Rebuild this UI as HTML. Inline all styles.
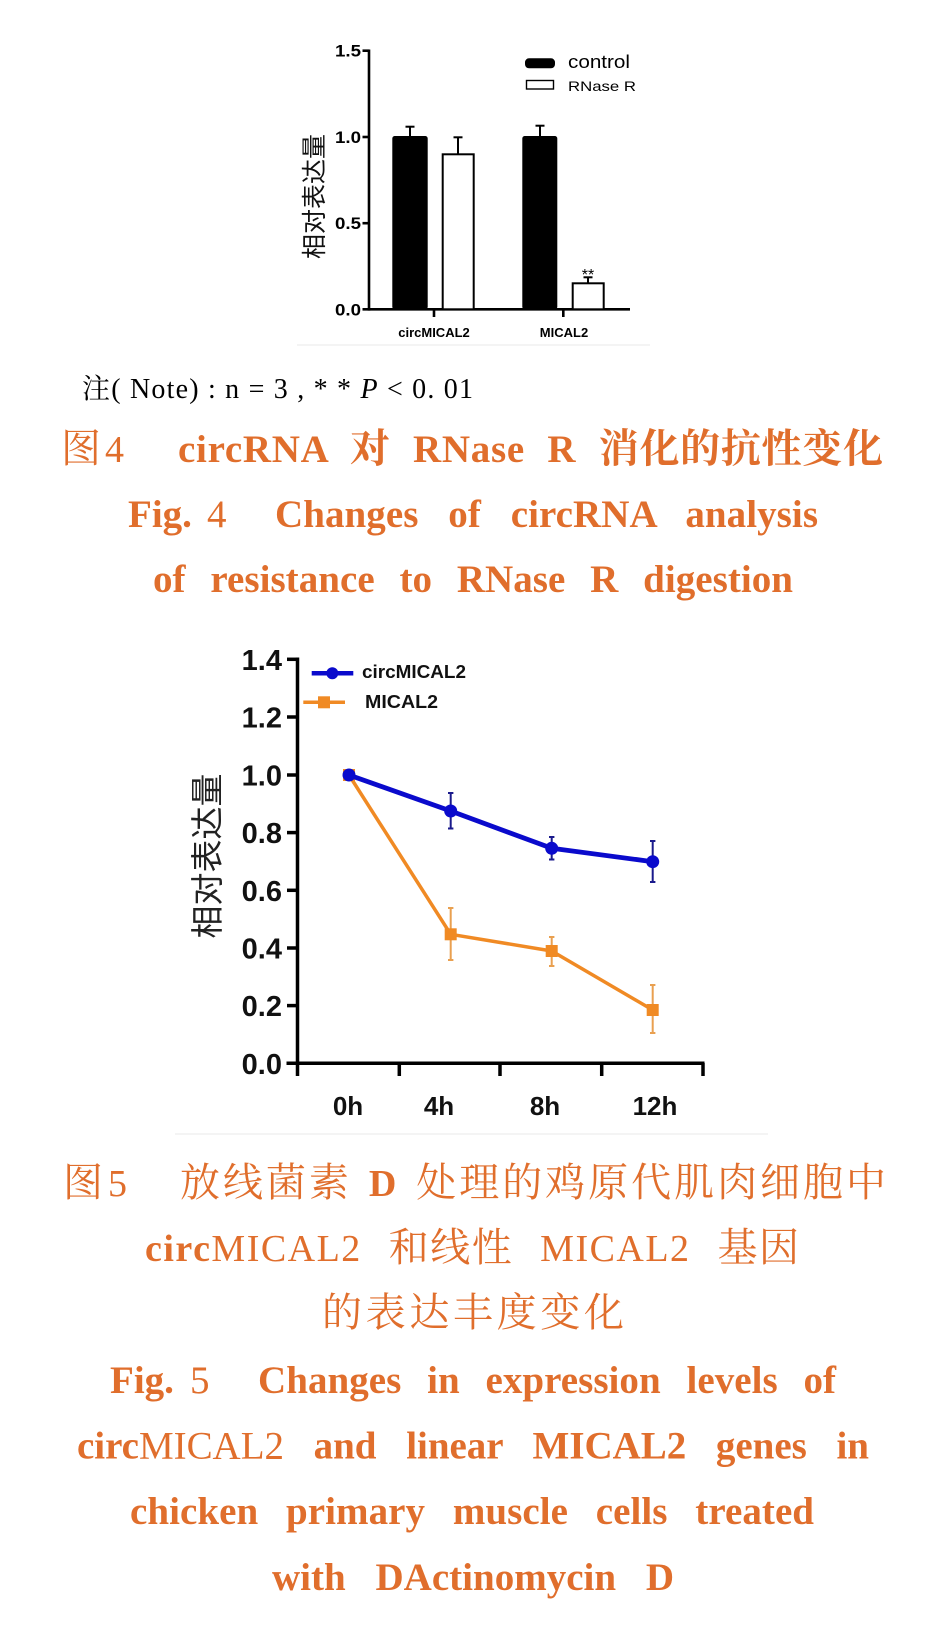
<!DOCTYPE html>
<html><head><meta charset="utf-8"><style>
html,body{margin:0;padding:0;background:#fff;}
svg{display:block;}
.cap{fill:#E06E2C;}
.serif{font-family:"Liberation Serif","Noto Serif CJK SC",serif;}
.cjk{font-family:"Noto Serif CJK SC","Liberation Serif",serif;}
.sans{font-family:"Liberation Sans","Noto Sans CJK SC",sans-serif;}
.cjksans{font-family:"Noto Sans CJK SC","Liberation Sans",sans-serif;}
</style></head><body>
<svg width="936" height="1637" viewBox="0 0 936 1637" xmlns="http://www.w3.org/2000/svg">
<rect x="0" y="0" width="936" height="1637" fill="#fff"/>

<!-- ================= Chart 1 ================= -->
<line x1="297" y1="345" x2="650" y2="345" stroke="#f0f0f0" stroke-width="1.5"/>
<g stroke="#000" fill="none" stroke-width="2.6">
  <line x1="369" y1="49.5" x2="369" y2="310.6"/>
  <line x1="362.5" y1="309.3" x2="630" y2="309.3"/>
  <line x1="362.5" y1="50.7" x2="369" y2="50.7"/>
  <line x1="362.5" y1="137" x2="369" y2="137"/>
  <line x1="362.5" y1="223.2" x2="369" y2="223.2"/>
  <line x1="434" y1="309" x2="434" y2="317"/>
  <line x1="563.3" y1="309" x2="563.3" y2="317"/>
</g>
<g class="sans" font-weight="bold" font-size="17" text-anchor="end" fill="#000">
  <text x="361" y="56.7" textLength="26" lengthAdjust="spacingAndGlyphs">1.5</text>
  <text x="361" y="143" textLength="26" lengthAdjust="spacingAndGlyphs">1.0</text>
  <text x="361" y="229.2" textLength="26" lengthAdjust="spacingAndGlyphs">0.5</text>
  <text x="361" y="315.3" textLength="26" lengthAdjust="spacingAndGlyphs">0.0</text>
</g>
<!-- bars -->
<rect x="392.3" y="136" width="35.4" height="173.3" rx="2.5" fill="#000"/>
<rect x="442.7" y="154.3" width="31" height="155" fill="#fff" stroke="#000" stroke-width="2"/>
<rect x="522.3" y="136" width="35" height="173.3" rx="2.5" fill="#000"/>
<rect x="572.7" y="283.3" width="31" height="26" fill="#fff" stroke="#000" stroke-width="2"/>
<!-- error bars -->
<g stroke="#000" stroke-width="2" fill="none">
  <line x1="410" y1="136" x2="410" y2="126.7"/><line x1="405.5" y1="126.7" x2="414.5" y2="126.7"/>
  <line x1="458" y1="154" x2="458" y2="137.3"/><line x1="453.5" y1="137.3" x2="462.5" y2="137.3"/>
  <line x1="540" y1="136" x2="540" y2="125.7"/><line x1="535.5" y1="125.7" x2="544.5" y2="125.7"/>
  <line x1="588" y1="283" x2="588" y2="277.3"/><line x1="583.5" y1="277.3" x2="592.5" y2="277.3"/>
</g>
<text x="588" y="280" class="sans" font-size="16" text-anchor="middle" fill="#000">**</text>
<!-- legend -->
<rect x="525" y="58.3" width="30" height="10" rx="4" fill="#000"/>
<text x="568" y="68" class="sans" font-size="18" fill="#000" textLength="62" lengthAdjust="spacingAndGlyphs">control</text>
<rect x="526.5" y="80.5" width="27" height="8.5" fill="#fff" stroke="#000" stroke-width="1.4"/>
<text x="568" y="91" class="sans" font-size="14" fill="#000" textLength="68" lengthAdjust="spacingAndGlyphs">RNase R</text>
<!-- x labels -->
<text x="434" y="337" class="sans" font-size="13" font-weight="bold" text-anchor="middle" fill="#000">circMICAL2</text>
<text x="564" y="337" class="sans" font-size="13" font-weight="bold" text-anchor="middle" fill="#000">MICAL2</text>
<!-- y label -->
<text x="313" y="196.5" class="cjksans" font-size="25" fill="#111" text-anchor="middle" dominant-baseline="central" transform="rotate(-90 313 196.5)">相对表达量</text>

<!-- ================= Note & Fig 4 captions ================= -->
<text x="82" y="398" class="serif" font-size="28" fill="#000" textLength="391" lengthAdjust="spacing">注( Note) : n = 3 , * * <tspan font-style="italic">P</tspan> &lt; 0. 01</text>

<text x="61" y="462" class="cap cjk" font-size="40">图</text>
<text x="105" y="462" class="cap serif" font-size="38">4</text>
<text x="178" y="462" class="cap serif" font-size="39" font-weight="bold" word-spacing="12" textLength="705" lengthAdjust="spacing">circRNA <tspan font-size="40">对</tspan> RNase R <tspan font-size="40">消化的抗性变化</tspan></text>

<text x="128" y="527" class="cap serif" font-size="39" font-weight="bold">Fig.</text>
<text x="207" y="527" class="cap serif" font-size="39">4</text>
<text x="275" y="527" class="cap serif" font-size="39" font-weight="bold" word-spacing="20" textLength="543" lengthAdjust="spacing">Changes of circRNA analysis</text>
<text x="153" y="592" class="cap serif" font-size="39" font-weight="bold" word-spacing="15" textLength="640" lengthAdjust="spacing">of resistance to RNase R digestion</text>

<!-- ================= Chart 2 ================= -->
<line x1="175" y1="1134" x2="768" y2="1134" stroke="#f0f0f0" stroke-width="1.5"/>
<g stroke="#000" fill="none" stroke-width="3.5">
  <line x1="297.5" y1="657.5" x2="297.5" y2="1076"/>
  <line x1="286.5" y1="1063.3" x2="704.5" y2="1063.3"/>
  <line x1="287" y1="659.3" x2="297.5" y2="659.3"/>
  <line x1="287" y1="717" x2="297.5" y2="717"/>
  <line x1="287" y1="775" x2="297.5" y2="775"/>
  <line x1="287" y1="832.6" x2="297.5" y2="832.6"/>
  <line x1="287" y1="890.3" x2="297.5" y2="890.3"/>
  <line x1="287" y1="948" x2="297.5" y2="948"/>
  <line x1="287" y1="1005.6" x2="297.5" y2="1005.6"/>
  <line x1="399.3" y1="1063" x2="399.3" y2="1076"/>
  <line x1="500" y1="1063" x2="500" y2="1076"/>
  <line x1="601.7" y1="1063" x2="601.7" y2="1076"/>
  <line x1="703" y1="1063" x2="703" y2="1076"/>
</g>
<g class="sans" font-weight="bold" font-size="29" text-anchor="end" fill="#111">
  <text x="282" y="669.8">1.4</text>
  <text x="282" y="727.5">1.2</text>
  <text x="282" y="785.5">1.0</text>
  <text x="282" y="843.1">0.8</text>
  <text x="282" y="900.8">0.6</text>
  <text x="282" y="958.5">0.4</text>
  <text x="282" y="1016.1">0.2</text>
  <text x="282" y="1073.8">0.0</text>
</g>
<g class="sans" font-weight="bold" font-size="26" text-anchor="middle" fill="#111">
  <text x="348" y="1115">0h</text>
  <text x="439" y="1115">4h</text>
  <text x="545" y="1115">8h</text>
  <text x="655" y="1115">12h</text>
</g>
<!-- y label -->
<text x="205" y="856" class="cjksans" font-size="33" fill="#222" text-anchor="middle" dominant-baseline="central" transform="rotate(-90 205 856)">相对表达量</text>

<!-- orange series -->
<g stroke="#E9A050" stroke-width="2" fill="none">
  <line x1="450.7" y1="908" x2="450.7" y2="960"/><line x1="448" y1="908" x2="453.4" y2="908"/><line x1="448" y1="960" x2="453.4" y2="960"/>
  <line x1="551.7" y1="937" x2="551.7" y2="966"/><line x1="549" y1="937" x2="554.4" y2="937"/><line x1="549" y1="966" x2="554.4" y2="966"/>
  <line x1="652.7" y1="985" x2="652.7" y2="1033"/><line x1="650" y1="985" x2="655.4" y2="985"/><line x1="650" y1="1033" x2="655.4" y2="1033"/>
</g>
<polyline points="349,775 450.7,934.3 551.7,951 652.7,1010" fill="none" stroke="#F08A24" stroke-width="3.5" stroke-linejoin="round"/>
<g fill="#F08A24">
  <rect x="343" y="769" width="12" height="12"/>
  <rect x="444.7" y="928.3" width="12" height="12"/>
  <rect x="545.7" y="945" width="12" height="12"/>
  <rect x="646.7" y="1004" width="12" height="12"/>
</g>
<!-- blue series -->
<g stroke="#1A1A8C" stroke-width="2" fill="none">
  <line x1="450.7" y1="793" x2="450.7" y2="828.5"/><line x1="448" y1="793" x2="453.4" y2="793"/><line x1="448" y1="828.5" x2="453.4" y2="828.5"/>
  <line x1="551.7" y1="837" x2="551.7" y2="859.5"/><line x1="549" y1="837" x2="554.4" y2="837"/><line x1="549" y1="859.5" x2="554.4" y2="859.5"/>
  <line x1="652.7" y1="841" x2="652.7" y2="882"/><line x1="650" y1="841" x2="655.4" y2="841"/><line x1="650" y1="882" x2="655.4" y2="882"/>
</g>
<polyline points="349,775 450.7,811 551.7,848.3 652.7,861.7" fill="none" stroke="#0A0ACC" stroke-width="4.8" stroke-linejoin="round"/>
<g fill="#0A0ACC">
  <circle cx="349" cy="775" r="6.5"/>
  <circle cx="450.7" cy="811" r="6.5"/>
  <circle cx="551.7" cy="848.3" r="6.5"/>
  <circle cx="652.7" cy="861.7" r="6.5"/>
</g>
<!-- legend -->
<line x1="311.7" y1="673.3" x2="353.3" y2="673.3" stroke="#0A0ACC" stroke-width="4.5"/>
<circle cx="332.3" cy="673.3" r="6" fill="#0A0ACC"/>
<text x="362" y="677.8" class="sans" font-size="18" font-weight="bold" fill="#111" textLength="104" lengthAdjust="spacingAndGlyphs">circMICAL2</text>
<line x1="303.3" y1="702.3" x2="345" y2="702.3" stroke="#F08A24" stroke-width="3.5"/>
<rect x="318" y="696.3" width="12" height="12" fill="#F08A24"/>
<text x="365" y="707.8" class="sans" font-size="18" font-weight="bold" fill="#111" textLength="73" lengthAdjust="spacingAndGlyphs">MICAL2</text>

<!-- ================= Fig 5 captions ================= -->
<text x="63" y="1196" class="cap cjk" font-size="40">图</text>
<text x="108" y="1196" class="cap serif" font-size="38">5</text>
<text x="180" y="1196" class="cap serif" font-size="40" word-spacing="4" textLength="706" lengthAdjust="spacing">放线菌素 <tspan font-size="38" font-weight="bold">D</tspan> 处理的鸡原代肌肉细胞中</text>
<text x="145" y="1261" class="cap serif" font-size="38" word-spacing="16" textLength="654" lengthAdjust="spacing"><tspan font-weight="bold">circ</tspan>MICAL2 <tspan font-size="40">和线性</tspan> MICAL2 <tspan font-size="40">基因</tspan></text>
<text x="322" y="1326" class="cap cjk" font-size="40" textLength="302" lengthAdjust="spacing">的表达丰度变化</text>

<text x="110" y="1393" class="cap serif" font-size="39" font-weight="bold">Fig.</text>
<text x="190" y="1393" class="cap serif" font-size="39">5</text>
<text x="258" y="1393" class="cap serif" font-size="39" font-weight="bold" word-spacing="16" textLength="578" lengthAdjust="spacing">Changes in expression levels of</text>
<text x="77" y="1458.5" class="cap serif" font-size="39" font-weight="bold" word-spacing="20" textLength="792" lengthAdjust="spacing">circ<tspan font-weight="normal">MICAL2</tspan> and linear MICAL2 genes in</text>
<text x="130" y="1524" class="cap serif" font-size="39" font-weight="bold" word-spacing="18" textLength="684" lengthAdjust="spacing">chicken primary muscle cells treated</text>
<text x="272" y="1590" class="cap serif" font-size="39" font-weight="bold" word-spacing="20" textLength="402" lengthAdjust="spacing">with DActinomycin D</text>
</svg>
</body></html>
